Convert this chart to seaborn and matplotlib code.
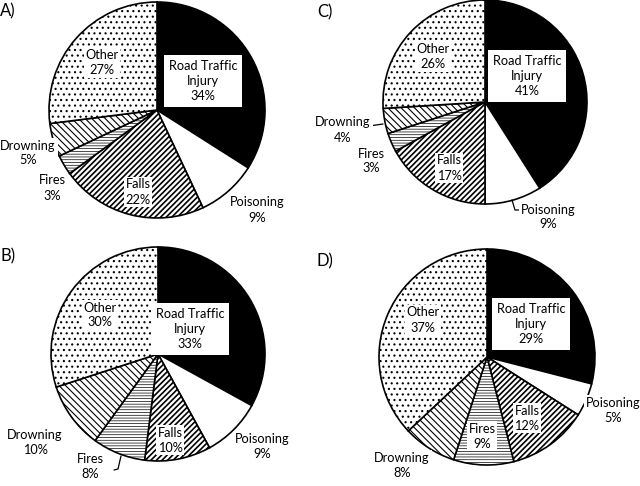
import matplotlib
matplotlib.use("Agg")
import matplotlib.pyplot as plt
import seaborn as sns

# injury causes, clockwise from 12 o'clock
CAUSES = ["Road Traffic\nInjury", "Poisoning", "Falls", "Fires", "Drowning", "Other"]
PANELS = ["A)", "B)", "C)", "D)"]
SHARE_A = [34, 9, 22, 3, 5, 27]
SHARE_B = [33, 9, 10, 8, 10, 30]
SHARE_C = [41, 9, 17, 3, 4, 26]
SHARE_D = [29, 5, 12, 9, 8, 37]
SHARES = {"A)": SHARE_A, "B)": SHARE_B, "C)": SHARE_C, "D)": SHARE_D}

W, H = 640, 486

sns.set_theme(style="white")
plt.rcParams["font.family"] = ["Lato", "DejaVu Sans"]

FACE = ["black", "white", "white", "white", "white", "white"]
HATCH = [None, None, "/" * 6, "-" * 6, "\\" * 5, "..."]
HATCH_LW = [1.0, 1.0, 1.2, 0.5, 0.8, 0.8]

# layout in pixels, origin top-left
PIE_POS = {"A)": (157, 110, 108), "B)": (158, 354, 107),
           "C)": (485, 102, 102), "D)": (487, 357, 108)}
TAG_POS = {"A)": (0, 11), "B)": (0, 256), "C)": (317, 12), "D)": (317, 261)}
LABEL_POS = {
    "A)": [(203, 81), (257, 210), (138, 192), (52, 188), (28, 153), (102, 63)],
    "B)": [(190, 329), (262, 446), (170, 440), (90, 466), (35, 442), (100, 315)],
    "C)": [(527, 76), (548, 217), (449, 168), (371, 161), (343, 130), (433, 57)],
    "D)": [(531, 324), (613, 410), (527, 418), (482, 436), (402, 465), (423, 320)],
}
LEADERS = {
    "B)": [[(121, 456), (118, 469), (114, 470)]],
    "C)": [[(369, 126), (383, 124)], [(512, 200), (515, 210), (520, 210)]],
}


def flip(p):
    return p[0], H - p[1]


fig = plt.figure(figsize=(W / 100, H / 100), dpi=100)
ax = fig.add_axes([0, 0, 1, 1])

for panel in PANELS:
    vals = SHARES[panel]
    cx, cy, r = PIE_POS[panel]
    wedges, _ = ax.pie(vals, center=flip((cx, cy)), radius=r, startangle=90,
                       counterclock=False, colors=FACE,
                       wedgeprops=dict(edgecolor="black", linewidth=1.2))
    for w, h, lw in zip(wedges, HATCH, HATCH_LW):
        if h:
            w.set_hatch(h)
            try:
                w.set_hatch_linewidth(lw)
            except AttributeError:
                pass

    for i, (name, v) in enumerate(zip(CAUSES, vals)):
        x, y = flip(LABEL_POS[panel][i])
        if i == 0:
            box = dict(boxstyle="square,pad=0.4", facecolor="white", edgecolor="none")
        else:
            box = dict(boxstyle="square,pad=0.15", facecolor="white", edgecolor="none")
        ax.text(x, y, f"{name}\n{v}%", ha="center", va="center", fontsize=9.2,
                linespacing=1.3, bbox=box, color="black")

    for line in LEADERS.get(panel, []):
        xs, ys = zip(*[flip(p) for p in line])
        ax.plot(xs, ys, color="black", linewidth=0.9)

    tx, ty = flip(TAG_POS[panel])
    ax.text(tx, ty, panel, ha="left", va="center", fontsize=12, color="black")

ax.set_xlim(0, W)
ax.set_ylim(0, H)
ax.set_aspect("auto")
ax.set_axis_off()
fig.savefig("out.png", dpi=100)
